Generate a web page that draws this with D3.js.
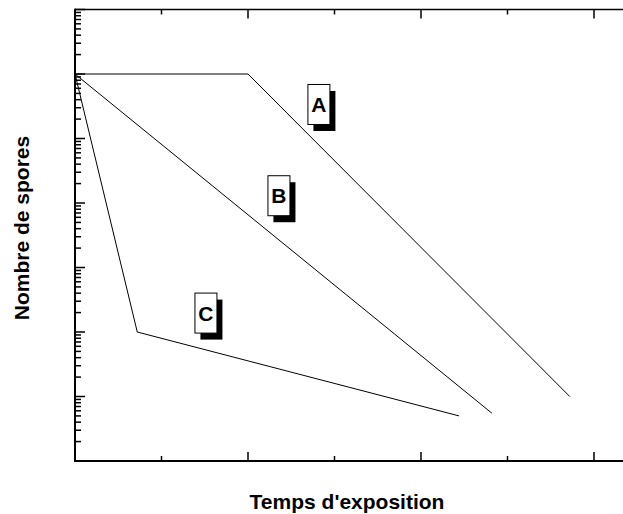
<!DOCTYPE html>
<html>
<head>
<meta charset="utf-8">
<script src="https://cdn.jsdelivr.net/npm/d3@7"></script>
<style>
  html, body { margin: 0; padding: 0; background: #fff; }
  svg { display: block; }
  text { font-family: "Liberation Sans", Arial, sans-serif; font-weight: bold; }
</style>
</head>
<body>
<svg id="chart" width="623" height="514"></svg>
<script>
// Survival curves: spore count (log scale) against exposure time
const seriesNames = ["A", "B", "C"];
const timeA = [0, 10, 28.6];
const countA = [1e6, 1e6, 10];
const timeB = [0, 24.1];
const countB = [1e6, 5.5];
const timeC = [0, 3.6, 22.2];
const countC = [1e6, 100, 5];

// Where each curve's tag sits (data units: time, count)
const labelTime = [14.07, 11.76, 7.54];
const labelCount = [3.43e5, 1.32e4, 200];

const xMajorTicks = [10, 20, 30];
const xMinorTicks = [5, 15, 25, 35];
const yDecades = [1, 10, 100, 1e3, 1e4, 1e5, 1e6, 1e7];

const xTitle = "Temps d'exposition";
const yTitle = "Nombre de spores";

const svg = d3.select("#chart");
const plotLeft = 75, plotTop = 9.5, plotBottom = 461;

const x = d3.scaleLinear().domain([0, 35]).range([plotLeft, plotLeft + 35 * 17.3]);
const y = d3.scaleLog().domain([1, 1e7]).range([plotBottom, plotTop]);

const yMinor = [];
for (let i = 0; i < yDecades.length - 1; i++) {
  for (let k = 2; k <= 9; k++) yMinor.push(yDecades[i] * k);
}

const plotRight = x(35);

// frame: left and bottom axes heavier, top edge lighter
const g = svg.append("g");
g.append("line").attr("x1", plotLeft).attr("x2", plotRight).attr("y1", plotTop).attr("y2", plotTop)
  .attr("stroke", "#000").attr("stroke-width", 1.5);
g.append("line").attr("x1", plotLeft).attr("x2", plotRight).attr("y1", plotBottom).attr("y2", plotBottom)
  .attr("stroke", "#000").attr("stroke-width", 2);
g.append("line").attr("x1", plotLeft).attr("x2", plotLeft).attr("y1", plotTop - 0.75).attr("y2", plotBottom + 1)
  .attr("stroke", "#000").attr("stroke-width", 2);

// y ticks pointing inward
g.selectAll(".ymaj").data(yDecades).join("line")
  .attr("x1", plotLeft).attr("x2", plotLeft + 10)
  .attr("y1", d => y(d)).attr("y2", d => y(d))
  .attr("stroke", "#000").attr("stroke-width", 1.5);
g.selectAll(".ymin").data(yMinor).join("line")
  .attr("x1", plotLeft).attr("x2", plotLeft + 6)
  .attr("y1", d => y(d)).attr("y2", d => y(d))
  .attr("stroke", "#000").attr("stroke-width", 1.5);

// x ticks on bottom and top edges
[[plotBottom, -1], [plotTop, 1]].forEach(([yy, dir]) => {
  g.selectAll(null).data(xMajorTicks).join("line")
    .attr("x1", d => x(d)).attr("x2", d => x(d))
    .attr("y1", yy).attr("y2", yy + dir * 9)
    .attr("stroke", "#000").attr("stroke-width", 1.5);
  g.selectAll(null).data(xMinorTicks).join("line")
    .attr("x1", d => x(d)).attr("x2", d => x(d))
    .attr("y1", yy).attr("y2", yy + dir * 5)
    .attr("stroke", "#000").attr("stroke-width", 1.5);
});

// curves
const curves = [
  timeA.map((t, i) => [t, countA[i]]),
  timeB.map((t, i) => [t, countB[i]]),
  timeC.map((t, i) => [t, countC[i]])
];
const line = d3.line().x(d => x(d[0])).y(d => y(d[1]));
svg.append("g").selectAll("path").data(curves).join("path")
  .attr("d", line).attr("fill", "none")
  .attr("stroke", "#000").attr("stroke-width", 1);

// tags with drop shadow
const bw = 22, bh = 40;
const tags = svg.append("g").selectAll("g").data(seriesNames).join("g")
  .attr("transform", (d, i) => `translate(${x(labelTime[i]) - bw / 2},${y(labelCount[i]) - bh / 2})`);
tags.append("rect").attr("x", 6).attr("y", 7).attr("width", bw).attr("height", bh).attr("fill", "#000");
tags.append("rect").attr("x", 0.5).attr("y", 0.5).attr("width", bw).attr("height", bh)
  .attr("fill", "#fff").attr("stroke", "#000").attr("stroke-width", 1);
tags.append("text").attr("x", bw / 2 + 0.5).attr("y", bh / 2 + 8)
  .attr("text-anchor", "middle").attr("font-size", 21).text(d => d);

// axis titles
svg.append("text").attr("x", 347).attr("y", 509).attr("text-anchor", "middle")
  .attr("font-size", 21).text(xTitle);
svg.append("text").attr("transform", "translate(29,228) rotate(-90)")
  .attr("text-anchor", "middle").attr("font-size", 21).text(yTitle);
</script>
</body>
</html>
